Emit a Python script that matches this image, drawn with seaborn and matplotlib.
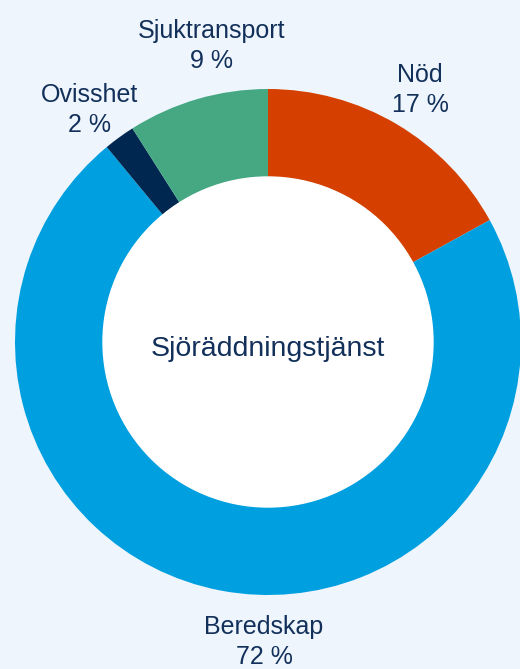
import matplotlib
matplotlib.use('Agg')

import matplotlib.pyplot as plt
import seaborn as sns

# Data (clockwise from the top)
categories = ['Nöd', 'Beredskap', 'Ovisshet', 'Sjuktransport']
shares = [17, 72, 2, 9]
colors = ['#D54000', '#009FDF', '#00274F', '#45A883']
center_title = 'Sjöräddningstjänst'

sns.set_style("white")
plt.rcParams['font.family'] = ['Liberation Sans', 'DejaVu Sans']

BG = '#EEF5FC'
TXT = '#12305A'
W, H = 520, 669

fig = plt.figure(figsize=(W / 100, H / 100), dpi=100)
fig.patch.set_facecolor(BG)
ax = fig.add_axes([0, 0, 1, 1])
ax.set_facecolor(BG)

# pixel-like coordinate frame
cx, cy, r = 268, H - 342, 253
wedges, _ = ax.pie(
    shares,
    colors=sns.color_palette(colors),
    startangle=90,
    counterclock=False,
    center=(cx, cy),
    radius=r,
    wedgeprops=dict(width=88, linewidth=0),
)
ax.add_patch(plt.Circle((cx, cy), r - 88, color='white', zorder=3))
ax.set_xlim(0, W)
ax.set_ylim(0, H)
ax.set_aspect('equal')
ax.axis('off')

# label positions (px from top-left)
label_pos = {
    'Nöd': (420, 90),
    'Beredskap': (264, 642),
    'Ovisshet': (89, 110),
    'Sjuktransport': (212, 46),
}
for name, val in zip(categories, shares):
    x, y = label_pos[name]
    ax.text(x, H - y, f'{name}\n{val} %', ha='center', va='center',
            fontsize=18, color=TXT, linespacing=1.35, zorder=4)

ax.text(cx, H - 349, center_title, ha='center', va='center', fontsize=20.5,
        color=TXT, zorder=4)

plt.savefig('out.png', dpi=100, facecolor=BG)
plt.close(fig)
